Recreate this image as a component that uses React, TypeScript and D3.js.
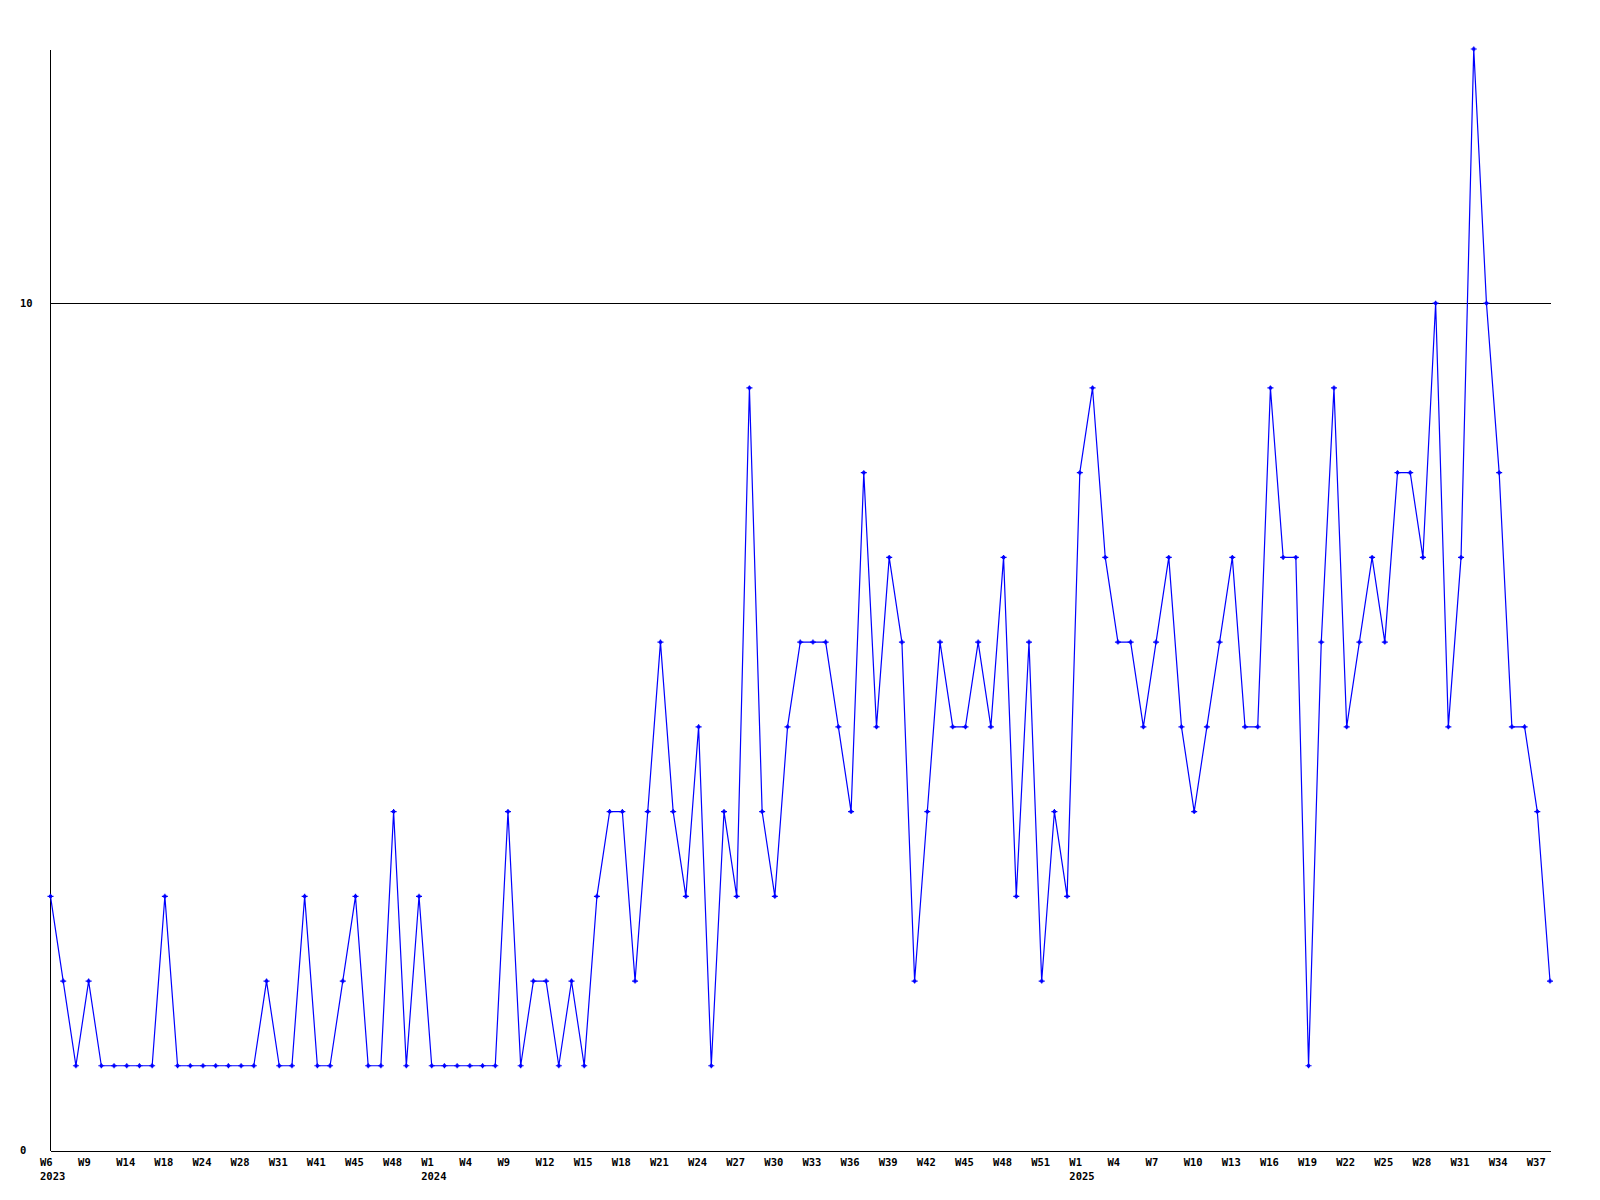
import React from "react";
import * as d3 from "d3";

const values: number[] = [
  3, 2, 1, 2, 1, 1, 1, 1, 1, 3,
  1, 1, 1, 1, 1, 1, 1, 2, 1, 1,
  3, 1, 1, 2, 3, 1, 1, 4, 1, 3,
  1, 1, 1, 1, 1, 1, 4, 1, 2, 2,
  1, 2, 1, 3, 4, 4, 2, 4, 6, 4,
  3, 5, 1, 4, 3, 9, 4, 3, 5, 6,
  6, 6, 5, 4, 8, 5, 7, 6, 2, 4,
  6, 5, 5, 6, 5, 7, 3, 6, 2, 4,
  3, 8, 9, 7, 6, 6, 5, 6, 7, 5,
  4, 5, 6, 7, 5, 5, 9, 7, 7, 1,
  6, 9, 5, 6, 7, 6, 8, 8, 7, 10,
  5, 7, 13, 10, 8, 5, 5, 4, 2,
];

const weekLabels: string[] = [
  "W6", "W9", "W14", "W18", "W24", "W28", "W31", "W41", "W45", "W48",
  "W1", "W4", "W9", "W12", "W15", "W18", "W21", "W24", "W27", "W30",
  "W33", "W36", "W39", "W42", "W45", "W48", "W51",
  "W1", "W4", "W7", "W10", "W13", "W16", "W19", "W22", "W25", "W28",
  "W31", "W34", "W37",
];
const labelStep = 3;

const yearLabels: string[] = ["2023", "2024", "2025"];
const yearLabelSlots: number[] = [0, 10, 27];

const yTicks: number[] = [0, 10];

const FONT = "'DejaVu Sans Mono', 'Liberation Mono', monospace";

export default function App() {
  const x = d3
    .scalePoint<number>()
    .domain(values.map((_, i) => i))
    .range([50.5, 1550]);
  const y = d3.scaleLinear().domain([0, 13]).range([1150.5, 49]);

  const line = d3
    .line<number>()
    .x((_, i) => x(i) as number)
    .y((d) => y(d));

  const x0 = 50.5;
  const x1 = 1550.5;

  return (
    <svg
      width={1600}
      height={1200}
      style={{ position: "absolute", left: 0, top: 0, background: "#fff" }}
    >
      <rect x={0} y={0} width={1600} height={1200} fill="#fff" />
      <line x1={x0} x2={x0} y1={49.5} y2={y(0)} stroke="#000" strokeWidth={1} shapeRendering="crispEdges" />
      {yTicks.map((t) => (
        <line
          key={"g" + t}
          x1={x0}
          x2={x1}
          y1={Math.round(y(t)) + 0.5}
          y2={Math.round(y(t)) + 0.5}
          stroke="#000"
          strokeWidth={1}
          shapeRendering="crispEdges"
        />
      ))}
      {yTicks.map((t) => (
        <text
          key={"yl" + t}
          x={20}
          y={y(t) + 3.5}
          fontFamily={FONT}
          fontWeight="bold"
          fontSize={10.5}
          fill="#000"
        >
          {t}
        </text>
      ))}
      {weekLabels.map((w, k) => (
        <text
          key={"w" + k}
          x={(x(k * labelStep) as number) - 10.5}
          y={1166}
          fontFamily={FONT}
          fontWeight="bold"
          fontSize={10.5}
          fill="#000"
        >
          {w}
        </text>
      ))}
      {yearLabels.map((yr, k) => (
        <text
          key={"y" + k}
          x={(x(yearLabelSlots[k] * labelStep) as number) - 10.5}
          y={1180}
          fontFamily={FONT}
          fontWeight="bold"
          fontSize={10.5}
          fill="#000"
        >
          {yr}
        </text>
      ))}
      <path d={line(values) || ""} fill="none" stroke="#0000ff" strokeWidth={1.2} />
      {values.map((v, i) => {
        const cx = x(i) as number;
        const cy = y(v);
        return (
          <g key={"m" + i} transform={`translate(${cx},${cy})`}>
            <path d="M-3,0H3M0,-2.5V2.5" stroke="#0000ff" strokeWidth={1.2} />
            <rect x={-1.5} y={-1.5} width={3} height={3} fill="#0000ff" />
          </g>
        );
      })}
    </svg>
  );
}
